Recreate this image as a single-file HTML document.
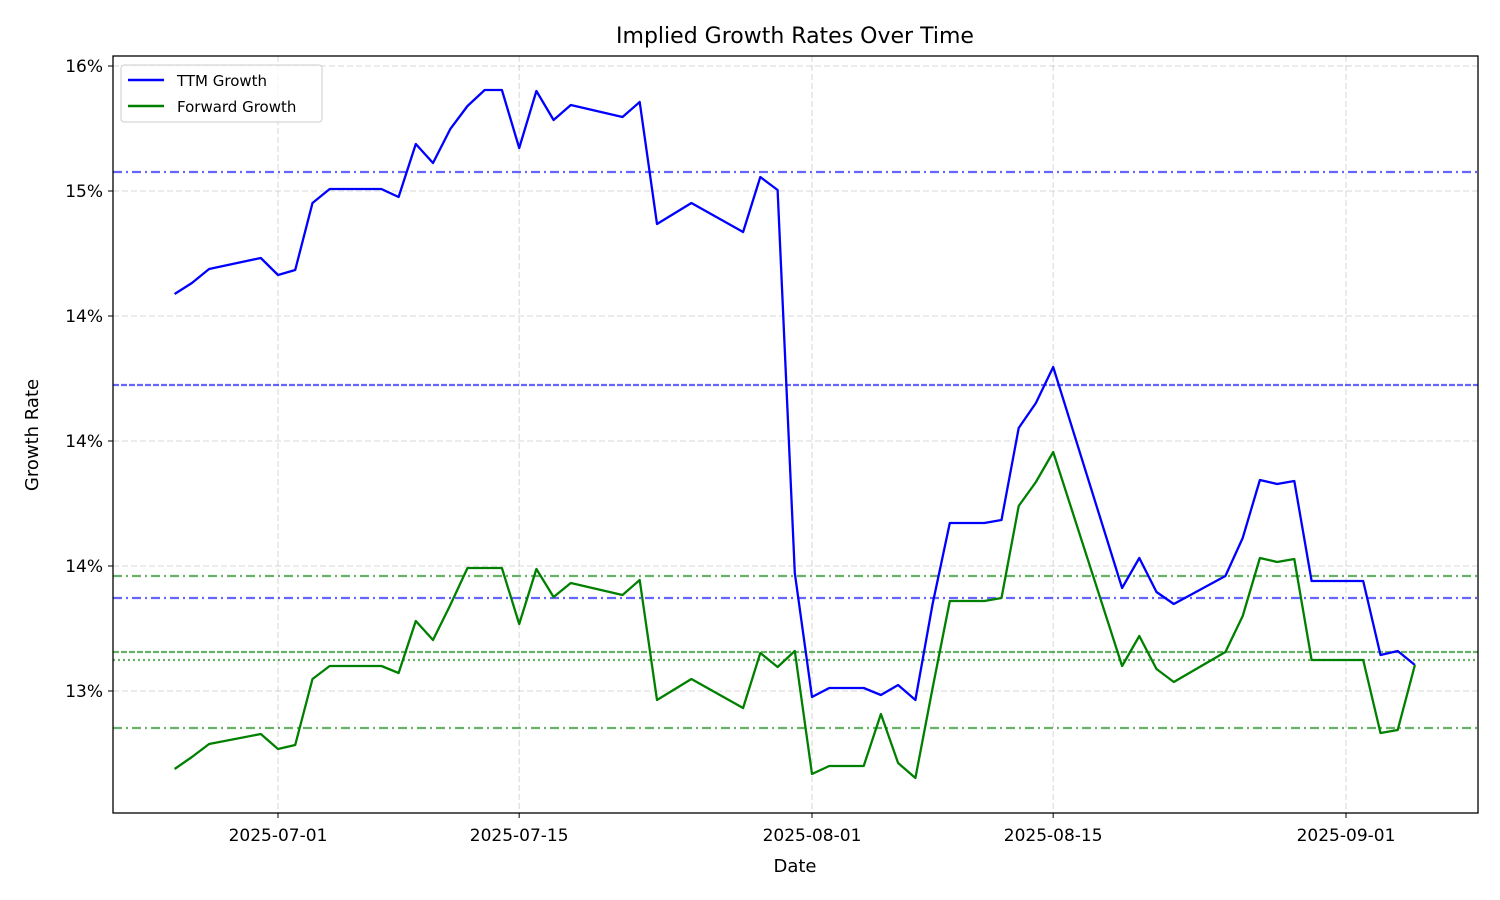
<!DOCTYPE html>
<html><head><meta charset="utf-8"><style>
body{margin:0;background:#fff;}
svg{display:block;font-family:"DejaVu Sans","Liberation Sans",sans-serif;}
</style></head><body>
<svg id="chart" width="1500" height="900" viewBox="0 0 1500 900">
<rect x="0" y="0" width="1500" height="900" fill="#fff"/>
<text x="795" y="43" font-size="22" text-anchor="middle">Implied Growth Rates Over Time</text>
<g id="grid"></g>
<g id="reflines"></g>
<g id="series"></g>
<rect x="113" y="56" width="1365" height="757" fill="none" stroke="#000" stroke-width="1.3"/>
<g id="axes"></g>
<text x="795" y="872" font-size="18" text-anchor="middle">Date</text>
<text x="38" y="435" font-size="18" text-anchor="middle" transform="rotate(-90 38 435)">Growth Rate</text>
<g>
<rect x="121" y="65" width="201" height="57" rx="3" fill="#fff" fill-opacity="0.8" stroke="#ccc"/>
<line x1="128" y1="80" x2="164" y2="80" stroke="#0000ff" stroke-width="2.5"/>
<text x="177" y="86" font-size="15">TTM Growth</text>
<line x1="128" y1="106" x2="164" y2="106" stroke="#008000" stroke-width="2.5"/>
<text x="177" y="112" font-size="15">Forward Growth</text>
</g>
</svg>
<script>
const dayOffsets=[-6,-5,-4,-1,0,1,2,3,6,7,8,9,10,11,12,13,14,15,16,17,20,21,22,24,27,28,29,30,31,32,34,35,36,37,38,39,41,42,43,44,45,49,50,51,52,55,56,57,58,59,60,63,64,65,66];
const ttmValues=[15.088,15.132,15.188,15.232,15.164,15.184,15.452,15.508,15.508,15.476,15.688,15.612,15.748,15.840,15.904,15.904,15.672,15.900,15.784,15.844,15.796,15.856,15.368,15.452,15.336,15.556,15.504,13.972,13.476,13.512,13.512,13.484,13.524,13.464,13.848,14.172,14.172,14.184,14.552,14.652,14.796,13.912,14.032,13.896,13.848,13.960,14.112,14.344,14.328,14.340,13.940,13.940,13.644,13.660,13.604];
const fwdValues=[13.188,13.236,13.288,13.328,13.268,13.284,13.548,13.600,13.600,13.572,13.780,13.704,13.844,13.992,13.992,13.992,13.768,13.988,13.876,13.932,13.884,13.944,13.464,13.548,13.432,13.652,13.596,13.660,13.168,13.200,13.200,13.408,13.212,13.152,13.512,13.860,13.860,13.872,14.240,14.336,14.456,13.600,13.720,13.588,13.536,13.656,13.800,14.032,14.016,14.028,13.624,13.624,13.332,13.344,13.604];
const yTicks=[16,15.5,15,14.5,14,13.5];
const yTickLabels=["16%","15%","14%","14%","14%","13%"];
const xTicks=[0,14,31,45,62];
const xTickLabels=["2025-07-01","2025-07-15","2025-08-01","2025-08-15","2025-09-01"];
const ttmRefValues=[15.576,14.724,13.872];
const ttmRefDash=["9,4,2,4","6,2","9,4,2,4"];
const fwdRefValues=[13.96,13.656,13.624,13.352];
const fwdRefDash=["9,4,2,4","6,2","2,3","9,4,2,4"];

const NS="http://www.w3.org/2000/svg";
function xs(d){return 278+d*17.226;}
function ys(p){return (16.264-p)*250;}
function mk(tag,attrs,parent){const e=document.createElementNS(NS,tag);for(const k in attrs)e.setAttribute(k,attrs[k]);parent.appendChild(e);return e;}
const grid=document.getElementById('grid'),axes=document.getElementById('axes'),refl=document.getElementById('reflines'),ser=document.getElementById('series');
yTicks.forEach((t,i)=>{const y=ys(t);
 const g=mk('line',{x1:113,x2:1478,y1:y,y2:y,stroke:'#b0b0b0','stroke-opacity':0.5,'stroke-dasharray':'6,3'},grid);
 
 
 mk('line',{x1:108,x2:113,y1:y,y2:y,stroke:'#000'},axes);
 const tx=mk('text',{x:103,y:y+6,'font-size':17,'text-anchor':'end'},axes);tx.textContent=yTickLabels[i];
 
 
});
xTicks.forEach((t,i)=>{const x=xs(t);
 const g=mk('line',{x1:x,x2:x,y1:56,y2:813,stroke:'#b0b0b0','stroke-opacity':0.5,'stroke-dasharray':'6,3'},grid);
 
 
 mk('line',{x1:x,x2:x,y1:813,y2:818,stroke:'#000'},axes);
 const tx=mk('text',{x:x,y:841,'font-size':17,'text-anchor':'middle'},axes);tx.textContent=xTickLabels[i];
 
 
});
ttmRefValues.forEach((v,i)=>{const l=mk('line',{x1:113,x2:1478,y1:ys(v),y2:ys(v),stroke:'#0000ff','stroke-opacity':0.6,'stroke-width':2.2,'stroke-dasharray':ttmRefDash[i]},refl);
 
 });
fwdRefValues.forEach((v,i)=>{const l=mk('line',{x1:113,x2:1478,y1:ys(v),y2:ys(v),stroke:'#008000','stroke-opacity':0.6,'stroke-width':2.2,'stroke-dasharray':fwdRefDash[i]},refl);
 
 });
function pts(vals){return dayOffsets.map((d,i)=>xs(d).toFixed(1)+','+ys(vals[i]).toFixed(1)).join(' ');}
const p1=mk('polyline',{points:pts(ttmValues),fill:'none',stroke:'#0000ff','stroke-width':2.3,'stroke-linejoin':'round'},ser);


const p2=mk('polyline',{points:pts(fwdValues),fill:'none',stroke:'#008000','stroke-width':2.3,'stroke-linejoin':'round'},ser);


</script>
</body></html>
